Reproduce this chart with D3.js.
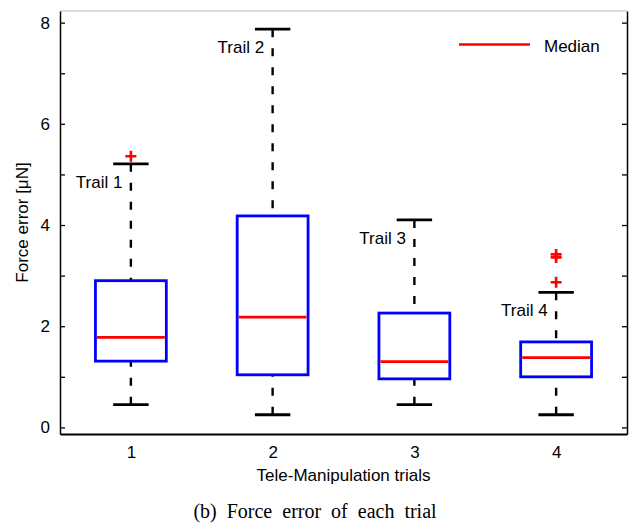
<!DOCTYPE html>
<html lang="en">
<head>
<meta charset="UTF-8">
<title>Force error of each trial</title>
<script src="https://d3js.org/d3.v7.min.js"></script>
<style>
  body { margin: 0; background: #fff; }
  svg text { font-family: "Liberation Sans", Arial, Helvetica, sans-serif; }
</style>
</head>
<body>
<svg id="chart" width="629" height="523"></svg>
<script>
// data
var trials = [1, 2, 3, 4];
var trialLabels = ["Trail 1", "Trail 2", "Trail 3", "Trail 4"];
var lowerWhisker = [0.45, 0.25, 0.45, 0.25];
var q1 = [1.31, 1.04, 0.96, 1.00];
var medians = [1.78, 2.18, 1.30, 1.38];
var q3 = [2.90, 4.18, 2.26, 1.69];
var upperWhisker = [5.21, 7.87, 4.10, 2.67];
var outliers = [[5.36], [], [], [2.87, 3.36, 3.42]];
var yTicks = [0, 1, 2, 3, 4, 5, 6, 7, 8];
var yTickLabels = ["0", "", "2", "", "4", "", "6", "", "8"];

var svg = d3.select("#chart");
var plotLeft = 60, plotRight = 627, plotTop = 11, plotBottom = 434;

var x = d3.scaleLinear().domain([0.5, 4.5]).range([plotLeft, plotRight]);
var y = d3.scaleLinear().domain([-0.13, 8.23]).range([plotBottom, plotTop]);

var boxW = x(1.25) - x(0.75);
var capW = x(1.125) - x(0.875);

// top border (light gray)
svg.append("line")
    .attr("x1", plotLeft).attr("x2", plotRight)
    .attr("y1", plotTop).attr("y2", plotTop)
    .attr("stroke", "#bbb").attr("stroke-width", 1.2);

// left axis
var yAxis = d3.axisLeft(y)
    .tickValues(yTicks)
    .tickFormat(function(d, i) { return yTickLabels[i]; })
    .tickSize(-5).tickSizeOuter(0).tickPadding(10);
var gy = svg.append("g").attr("transform", "translate(" + plotLeft + ",0)").call(yAxis);
gy.selectAll("text").attr("font-size", 17).attr("fill", "#000");
gy.selectAll("line").attr("stroke-width", 1.3);
gy.select(".domain").attr("stroke-width", 1.5);

// right axis, ticks only
var yAxisR = d3.axisRight(y)
    .tickValues(yTicks)
    .tickFormat("")
    .tickSize(-5).tickSizeOuter(0);
var gyr = svg.append("g").attr("transform", "translate(" + plotRight + ",0)").call(yAxisR);
gyr.selectAll("line").attr("stroke-width", 1.3);
gyr.select(".domain").attr("stroke-width", 1.5);

// bottom axis
var xAxis = d3.axisBottom(x)
    .tickValues(trials)
    .tickFormat(d3.format("d"))
    .tickSize(0).tickSizeOuter(0).tickPadding(12);
var gx = svg.append("g").attr("transform", "translate(0," + plotBottom + ")").call(xAxis);
gx.selectAll("text").attr("font-size", 17).attr("fill", "#000");
gx.select(".domain").attr("stroke-width", 1.8);

// boxes
var groups = svg.selectAll("g.box")
    .data(trials)
    .enter().append("g")
    .attr("class", "box");

// whiskers (dashed)
groups.append("line")
    .attr("x1", function(d) { return x(d); })
    .attr("x2", function(d) { return x(d); })
    .attr("y1", function(d, i) { return y(upperWhisker[i]); })
    .attr("y2", function(d, i) { return y(q3[i]); })
    .attr("stroke", "#000").attr("stroke-width", 2.4)
    .attr("stroke-dasharray", "8,11");
groups.append("line")
    .attr("x1", function(d) { return x(d); })
    .attr("x2", function(d) { return x(d); })
    .attr("y1", function(d, i) { return y(lowerWhisker[i]); })
    .attr("y2", function(d, i) { return y(q1[i]); })
    .attr("stroke", "#000").attr("stroke-width", 2.4)
    .attr("stroke-dasharray", "8,11");

// caps
[upperWhisker, lowerWhisker].forEach(function(arr) {
    groups.append("line")
        .attr("x1", function(d) { return x(d) - capW / 2; })
        .attr("x2", function(d) { return x(d) + capW / 2; })
        .attr("y1", function(d, i) { return y(arr[i]); })
        .attr("y2", function(d, i) { return y(arr[i]); })
        .attr("stroke", "#000").attr("stroke-width", 2.8);
});

// box body
groups.append("rect")
    .attr("x", function(d) { return x(d) - boxW / 2; })
    .attr("y", function(d, i) { return y(q3[i]); })
    .attr("width", boxW)
    .attr("height", function(d, i) { return y(q1[i]) - y(q3[i]); })
    .attr("fill", "none")
    .attr("stroke", "#0000ff").attr("stroke-width", 2.8);

// median
groups.append("line")
    .attr("x1", function(d) { return x(d) - boxW / 2 + 1.5; })
    .attr("x2", function(d) { return x(d) + boxW / 2 - 1.5; })
    .attr("y1", function(d, i) { return y(medians[i]); })
    .attr("y2", function(d, i) { return y(medians[i]); })
    .attr("stroke", "#ff0000").attr("stroke-width", 2.6);

// outliers as red plus signs
groups.each(function(d, i) {
    var g = d3.select(this);
    outliers[i].forEach(function(v) {
        var cx = x(d), cy = y(v), s = 5.5;
        g.append("path")
            .attr("d", "M" + (cx - s) + "," + cy + "H" + (cx + s) + "M" + cx + "," + (cy - s) + "V" + (cy + s))
            .attr("stroke", "#ff0000").attr("stroke-width", 2.6).attr("fill", "none");
    });
});

// trial labels next to the upper whisker
groups.append("text")
    .attr("x", function(d) { return x(d) - 8.5; })
    .attr("y", function(d, i) { return y(upperWhisker[i]) + 24; })
    .attr("text-anchor", "end")
    .attr("font-size", 17)
    .text(function(d, i) { return trialLabels[i]; });

// legend
svg.append("line")
    .attr("x1", 459).attr("x2", 530)
    .attr("y1", 44.5).attr("y2", 44.5)
    .attr("stroke", "#ff0000").attr("stroke-width", 2.6);
svg.append("text")
    .attr("x", 544).attr("y", 51.5)
    .attr("font-size", 17)
    .text("Median");

// axis titles
svg.append("text")
    .attr("transform", "translate(28," + ((plotTop + plotBottom) / 2) + ") rotate(-90)")
    .attr("text-anchor", "middle")
    .attr("font-size", 17)
    .text("Force error [\u03bcN]");
svg.append("text")
    .attr("x", (plotLeft + plotRight) / 2).attr("y", 481)
    .attr("text-anchor", "middle")
    .attr("font-size", 17)
    .text("Tele-Manipulation trials");

// caption
svg.append("text")
    .attr("x", 315).attr("y", 518)
    .attr("text-anchor", "middle")
    .attr("font-size", 20)
    .attr("word-spacing", 5)
    .style("font-family", "'Liberation Serif', 'Times New Roman', serif")
    .text("(b) Force error of each trial");
</script>
</body>
</html>
